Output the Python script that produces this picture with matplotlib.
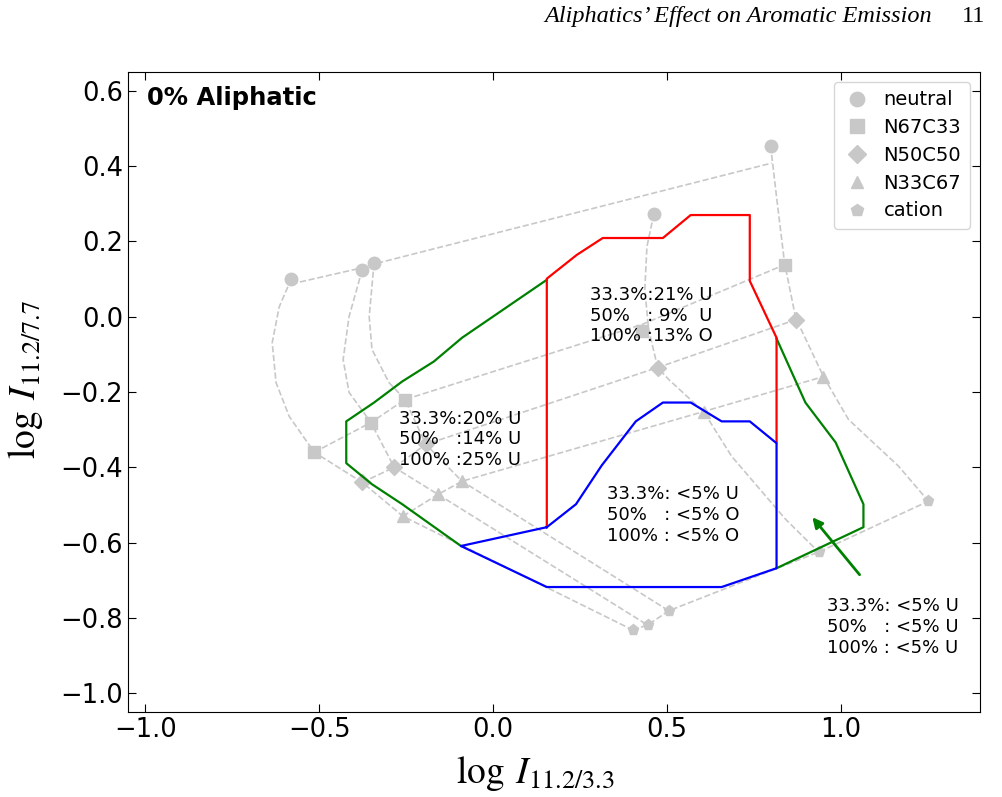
import matplotlib
matplotlib.use("Agg")
import matplotlib.pyplot as plt

plt.rcParams['mathtext.fontset'] = 'stix'

# marker positions (sizes A..E) per charge state
neutral_x = [-0.580, -0.376, -0.342, 0.463, 0.799]
neutral_y = [0.101, 0.125, 0.143, 0.273, 0.453]
n67_x = [-0.514, -0.351, -0.253, 0.428, 0.839]
n67_y = [-0.360, -0.281, -0.220, -0.037, 0.138]
n50_x = [-0.376, -0.284, -0.193, 0.474, 0.871]
n50_y = [-0.440, -0.400, -0.339, -0.135, -0.008]
n33_x = [-0.259, -0.158, -0.089, 0.606, 0.951]
n33_y = [-0.530, -0.472, -0.437, -0.252, -0.159]
cat_x = [0.402, 0.445, 0.506, 0.937, 1.253]
cat_y = [-0.832, -0.819, -0.781, -0.625, -0.490]

# dashed grid: constant-size arcs
arcA_x = [-0.580, -0.615, -0.635, -0.624, -0.586, -0.514, -0.376, -0.259, 0.402]
arcA_y = [0.101, 0.026, -0.069, -0.175, -0.265, -0.360, -0.440, -0.530, -0.832]
arcB_x = [-0.376, -0.414, -0.431, -0.414, -0.351, -0.284, -0.158, 0.445]
arcB_y = [0.125, 0.0, -0.114, -0.201, -0.281, -0.400, -0.472, -0.819]
arcC_x = [-0.342, -0.356, -0.348, -0.299, -0.253, -0.193, -0.089, 0.506]
arcC_y = [0.143, 0.0, -0.087, -0.175, -0.220, -0.339, -0.437, -0.781]
arcD_x = [0.463, 0.443, 0.437, 0.448, 0.474, 0.506, 0.606, 0.687, 0.842, 0.937]
arcD_y = [0.273, 0.186, 0.071, -0.034, -0.135, -0.167, -0.252, -0.371, -0.538, -0.625]
arcE_x = [0.799, 0.816, 0.839, 0.871, 0.951, 1.023, 1.167, 1.253]
arcE_y = [0.453, 0.318, 0.143, -0.003, -0.159, -0.273, -0.397, -0.490]

# dashed grid: neutral and N67C33 lines where they leave the markers
top_x = [-0.580, -0.376, -0.342, 0.802]
top_y = [0.087, 0.130, 0.140, 0.408]
sq_x = [-0.514, -0.351, -0.253, 0.428, 0.839]
sq_y = [-0.360, -0.281, -0.220, -0.021, 0.138]

# boundaries
green1_x = [0.155, -0.089, -0.170, -0.261, -0.342, -0.422, -0.422, -0.348, -0.261, -0.092]
green1_y = [0.098, -0.056, -0.119, -0.172, -0.228, -0.278, -0.389, -0.445, -0.498, -0.609]
green2_x = [0.816, 0.899, 0.986, 1.066, 1.066, 0.816]
green2_y = [-0.058, -0.228, -0.334, -0.498, -0.559, -0.668]
red_x = [0.155, 0.155, 0.241, 0.316, 0.489, 0.569, 0.739, 0.739, 0.816, 0.816]
red_y = [-0.559, 0.101, 0.164, 0.209, 0.209, 0.270, 0.270, 0.095, -0.056, -0.334]
blue_x = [0.155, 0.239, 0.313, 0.411, 0.489, 0.569, 0.658, 0.739, 0.816, 0.816,
          0.658, 0.155, -0.092, 0.155]
blue_y = [-0.559, -0.498, -0.395, -0.278, -0.228, -0.228, -0.278, -0.278, -0.336, -0.668,
          -0.718, -0.718, -0.609, -0.559]

gray = '#c8c8c8'

fig = plt.figure(figsize=(10.03, 7.97), dpi=100)
ax = fig.add_axes([0.1276, 0.1066, 0.8490, 0.8031])

for xs, ys in [(arcA_x, arcA_y), (arcB_x, arcB_y), (arcC_x, arcC_y), (arcD_x, arcD_y),
               (arcE_x, arcE_y), (top_x, top_y), (sq_x, sq_y), (n50_x, n50_y),
               (n33_x, n33_y), (cat_x, cat_y)]:
    ax.plot(xs, ys, ls='--', color=gray, lw=1.2, zorder=1)

ax.plot(neutral_x, neutral_y, 'o', color=gray, ms=9, ls='none', label='neutral', zorder=2)
ax.plot(n67_x, n67_y, 's', color=gray, ms=9, ls='none', label='N67C33', zorder=2)
ax.plot(n50_x, n50_y, 'D', color=gray, ms=8, ls='none', label='N50C50', zorder=2)
ax.plot(n33_x, n33_y, '^', color=gray, ms=8, ls='none', label='N33C67', zorder=2)
ax.plot(cat_x, cat_y, 'p', color=gray, ms=8, ls='none', label='cation', zorder=2)

ax.plot(green1_x, green1_y, color='green', lw=1.6, zorder=3)
ax.plot(green2_x, green2_y, color='green', lw=1.6, zorder=3)
ax.plot(red_x, red_y, color='red', lw=1.6, zorder=3)
ax.plot(blue_x, blue_y, color='blue', lw=1.6, zorder=4)

ax.annotate('', xy=(0.914, -0.527), xytext=(1.060, -0.691),
            arrowprops=dict(arrowstyle='-|>', color='green', lw=2, mutation_scale=15))

fs = 13
ax.text(0.279, 0.003, '33.3%:21% U\n50%   : 9%  U\n100% :13% O', fontsize=fs, va='center')
ax.text(-0.270, -0.326, '33.3%:20% U\n50%   :14% U\n100% :25% U', fontsize=fs, va='center')
ax.text(0.328, -0.527, '33.3%: <5% U\n50%   : <5% O\n100% : <5% O', fontsize=fs, va='center')
ax.text(0.960, -0.824, '33.3%: <5% U\n50%   : <5% U\n100% : <5% U', fontsize=fs, va='center')
ax.text(0.022, 0.96, '0% Aliphatic', transform=ax.transAxes, fontsize=17.5,
        fontweight='bold', va='center')

ax.set_xlim(-1.05, 1.40)
ax.set_ylim(-1.05, 0.65)
ax.set_xticks([-1.0, -0.5, 0.0, 0.5, 1.0])
ax.set_yticks([-1.0, -0.8, -0.6, -0.4, -0.2, 0.0, 0.2, 0.4, 0.6])
ax.tick_params(direction='in', top=True, right=True, labelsize=18.5, length=6)
ax.set_xlabel(r'$\log\;I_{11.2/3.3}$', fontsize=27)
ax.set_ylabel(r'$\log\;I_{11.2/7.7}$', fontsize=27)
ax.xaxis.set_label_coords(0.478, -0.066)
ax.yaxis.set_label_coords(-0.098, 0.52)

leg = ax.legend(loc='upper right', fontsize=14, handletextpad=0.6, borderpad=0.45,
                labelspacing=0.45, markerscale=1.15, handlelength=1.5)

fig.text(0.929, 0.979, 'Aliphatics’ Effect on Aromatic Emission', ha='right', va='center',
         fontsize=17.5, family='Liberation Serif', style='italic')
fig.text(0.982, 0.979, '11', ha='right', va='center', fontsize=17.5, family='Liberation Serif')

fig.savefig('out.png', dpi=100)
